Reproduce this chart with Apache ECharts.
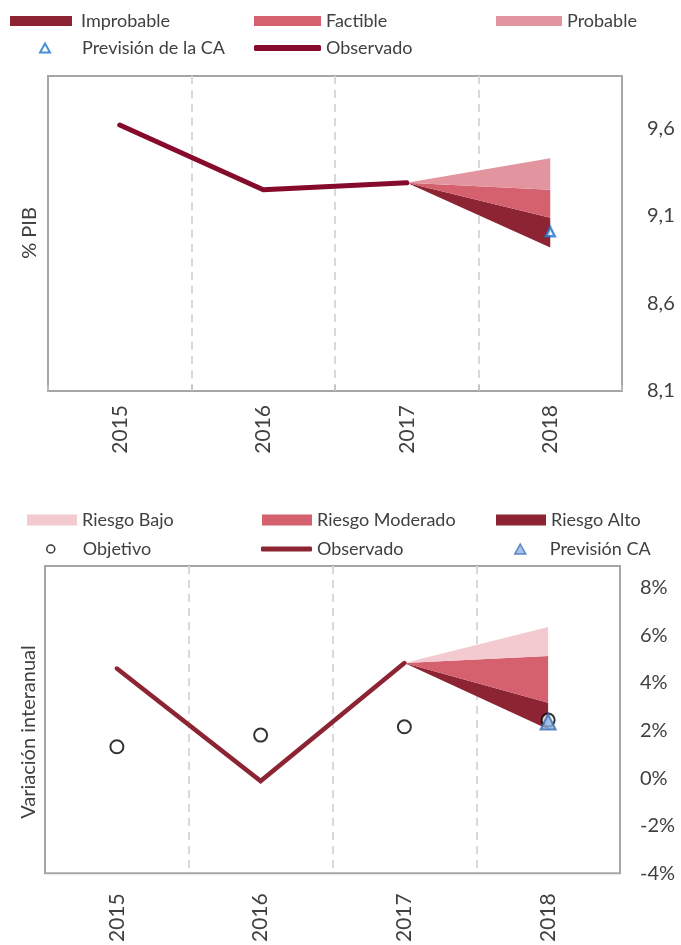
<!DOCTYPE html>
<html>
<head>
<meta charset="utf-8">
<script src="https://cdn.jsdelivr.net/npm/echarts@6/dist/echarts.min.js"></script>
<style>
html, body { margin: 0; padding: 0; background: #fff; }
#main { width: 681px; height: 945px; }
</style>
</head>
<body>
<div id="main"></div>
<script>
var years = ['2015', '2016', '2017', '2018'];

// gráfico superior: % PIB
var pibObservado  = [9.62, 9.25, 9.29, null];
var pibPrevision  = ['-', '-', '-', 9.01];
var pibFanBase    = [null, null, 9.29, 8.92];   // borde inferior del abanico
var pibImprobable = [null, null, 0, 0.17];
var pibFactible   = [null, null, 0, 0.16];
var pibProbable   = [null, null, 0, 0.18];
var pibTicks      = [8.1, 8.6, 9.1, 9.6];

// gráfico inferior: variación interanual (%)
var varObservado = [4.61, -0.12, 4.84, null];
var varObjetivo  = [1.32, 1.81, 2.16, 2.44];
var varPrevision = ['-', '-', '-', 2.36];
var varFanBase   = [null, null, 4.84, 2.06];
var varAlto      = [null, null, 0, 1.11];
var varModerado  = [null, null, 0, 1.97];
var varBajo      = [null, null, 0, 1.22];
var varTicks     = [-4, -2, 0, 2, 4, 6, 8];

var txt = '#404040';
var font = 'Lato, "Open Sans", sans-serif';

function isTick(v, list) {
    for (var i = 0; i < list.length; i++) {
        if (Math.abs(v - list[i]) < 1e-6) return true;
    }
    return false;
}

/* una leyenda por elemento para colocarlos como en el original */
function leg(name, left, top, icon, w, h, extra) {
    var item = { name: name, icon: icon };
    if (extra && extra.itemStyle) item.itemStyle = extra.itemStyle;
    var l = {
        data: [item],
        left: left, top: top,
        padding: 0,
        itemWidth: w, itemHeight: h,
        itemGap: 0,
        selectedMode: false,
        textStyle: { color: txt, fontSize: 18, fontFamily: font }
    };
    if (extra && extra.pad) l.textStyle.padding = extra.pad;
    return l;
}

var myChart = echarts.init(document.getElementById('main'));

var catAxis = function (gi, margin) {
    return {
        type: 'category',
        gridIndex: gi,
        data: years,
        boundaryGap: true,
        axisLine: { show: false },
        axisTick: { show: gi === 0, inside: true, length: 6, lineStyle: { color: '#BFBFBF', width: 1.5 } },
        axisLabel: { rotate: 90, margin: margin, color: txt, fontSize: 21, fontFamily: font },
        splitLine: {
            show: true, showMinLine: false, showMaxLine: false,
            lineStyle: { color: '#D9D9D9', type: [8, 6], width: 2 }
        }
    };
};

var option = {
    backgroundColor: '#fff',
    animation: false,
    legend: [
        leg('Improbable', 10, 12, 'rect', 62, 10, { pad: [0, 0, 0, 4] }),
        leg('Factible', 254, 12, 'rect', 67, 10),
        leg('Probable', 496, 12, 'rect', 66, 10),
        leg('Previsión de la CA', 39, 39, 'triangle', 10, 9,
            { pad: [0, 0, 0, 27], itemStyle: { color: '#fff', borderColor: '#1A73C9', borderWidth: 2 } }),
        leg('Observado', 254, 39, 'roundRect', 67, 6),

        leg('Riesgo Bajo', 27, 511, 'rect', 50, 11),
        leg('Riesgo Moderado', 262, 511, 'rect', 50, 11),
        leg('Riesgo Alto', 496, 511, 'rect', 50, 11),
        leg('Objetivo', 46, 540, 'circle', 8, 8,
            { pad: [0, 0, 0, 23], itemStyle: { color: '#fff', borderColor: '#000', borderWidth: 1.5 } }),
        leg('Observado ', 261, 540, 'roundRect', 51, 5),
        leg('Previsión CA', 514, 540, 'triangle', 11, 10,
            { pad: [0, 0, 0, 19], itemStyle: { color: '#8EB4E3', borderColor: '#3B6DB3', borderWidth: 1.5 } })
    ],
    grid: [
        { left: 48, right: 59, top: 76, bottom: 554, show: true, borderColor: '#A6A6A6', borderWidth: 2 },
        { left: 45, right: 61, top: 566, bottom: 59, show: true, borderColor: '#A6A6A6', borderWidth: 2 }
    ],
    graphic: [
        { type: 'text', x: 30, y: 233, rotation: Math.PI / 2,
          style: { text: '% PIB', fill: txt, font: '20px ' + font, textAlign: 'center', textVerticalAlign: 'middle' } },
        { type: 'text', x: 29, y: 732, rotation: Math.PI / 2,
          style: { text: 'Variación interanual', fill: txt, font: '20px ' + font, textAlign: 'center', textVerticalAlign: 'middle' } }
    ],
    xAxis: [catAxis(0, 14), catAxis(1, 20)],
    yAxis: [
        {
            type: 'value', gridIndex: 0, position: 'right',
            min: 8.1, max: 9.9, interval: 0.5,
            axisLine: { show: false }, axisTick: { show: false }, splitLine: { show: false },
            axisLabel: {
                margin: 25, color: txt, fontSize: 20, fontFamily: font,
                formatter: function (v) { return isTick(v, pibTicks) ? v.toFixed(1).replace('.', ',') : ''; }
            }
        },
        {
            type: 'value', gridIndex: 1, position: 'right',
            min: -4, max: 8.92, interval: 2,
            axisLine: { show: false }, axisTick: { show: false }, splitLine: { show: false },
            axisLabel: {
                margin: 20, color: txt, fontSize: 20, fontFamily: font,
                formatter: function (v) { return isTick(v, varTicks) ? v + '%' : ''; }
            }
        }
    ],
    series: [
        // ---- superior ----
        { name: 'base1', type: 'line', xAxisIndex: 0, yAxisIndex: 0, stack: 'fan1', data: pibFanBase,
          symbol: 'none', lineStyle: { width: 0 }, silent: true },
        { name: 'Improbable', type: 'line', xAxisIndex: 0, yAxisIndex: 0, stack: 'fan1', data: pibImprobable,
          symbol: 'none', color: '#8C2433', lineStyle: { width: 0 }, areaStyle: { color: '#8C2433', opacity: 1 } },
        { name: 'Factible', type: 'line', xAxisIndex: 0, yAxisIndex: 0, stack: 'fan1', data: pibFactible,
          symbol: 'none', color: '#D5616F', lineStyle: { width: 0 }, areaStyle: { color: '#D5616F', opacity: 1 } },
        { name: 'Probable', type: 'line', xAxisIndex: 0, yAxisIndex: 0, stack: 'fan1', data: pibProbable,
          symbol: 'none', color: '#E3959F', lineStyle: { width: 0 }, areaStyle: { color: '#E3959F', opacity: 1 } },
        { name: 'Observado', type: 'line', xAxisIndex: 0, yAxisIndex: 0, data: pibObservado,
          symbol: 'none', color: '#860A2C', lineStyle: { width: 5, cap: 'round', join: 'round' }, z: 4 },
        { name: 'Previsión de la CA', type: 'scatter', xAxisIndex: 0, yAxisIndex: 0, data: pibPrevision,
          symbol: 'triangle', symbolSize: 9,
          itemStyle: { color: '#fff', borderColor: '#1A73C9', borderWidth: 2.5 }, z: 5 },

        // ---- inferior ----
        { name: 'base2', type: 'line', xAxisIndex: 1, yAxisIndex: 1, stack: 'fan2', data: varFanBase,
          symbol: 'none', lineStyle: { width: 0 }, silent: true },
        { name: 'Riesgo Alto', type: 'line', xAxisIndex: 1, yAxisIndex: 1, stack: 'fan2', data: varAlto,
          symbol: 'none', color: '#8C2433', lineStyle: { width: 0 }, areaStyle: { color: '#8C2433', opacity: 1 } },
        { name: 'Riesgo Moderado', type: 'line', xAxisIndex: 1, yAxisIndex: 1, stack: 'fan2', data: varModerado,
          symbol: 'none', color: '#D5616F', lineStyle: { width: 0 }, areaStyle: { color: '#D5616F', opacity: 1 } },
        { name: 'Riesgo Bajo', type: 'line', xAxisIndex: 1, yAxisIndex: 1, stack: 'fan2', data: varBajo,
          symbol: 'none', color: '#F2CAD0', lineStyle: { width: 0 }, areaStyle: { color: '#F2CAD0', opacity: 1 } },
        { name: 'Observado ', type: 'line', xAxisIndex: 1, yAxisIndex: 1, data: varObservado,
          symbol: 'none', color: '#8C2433', lineStyle: { width: 4.5, cap: 'round', join: 'miter' }, z: 4 },
        { name: 'Objetivo', type: 'scatter', xAxisIndex: 1, yAxisIndex: 1, data: varObjetivo,
          symbol: 'circle', symbolSize: 13,
          itemStyle: { color: '#fff', borderColor: '#000', borderWidth: 2 }, z: 5 },
        { name: 'Previsión CA', type: 'scatter', xAxisIndex: 1, yAxisIndex: 1, data: varPrevision,
          symbol: 'triangle', symbolSize: 15,
          itemStyle: { color: '#8EB4E3', borderColor: '#3B6DB3', borderWidth: 2 }, z: 6 }
    ]
};

myChart.setOption(option);
</script>
</body>
</html>
